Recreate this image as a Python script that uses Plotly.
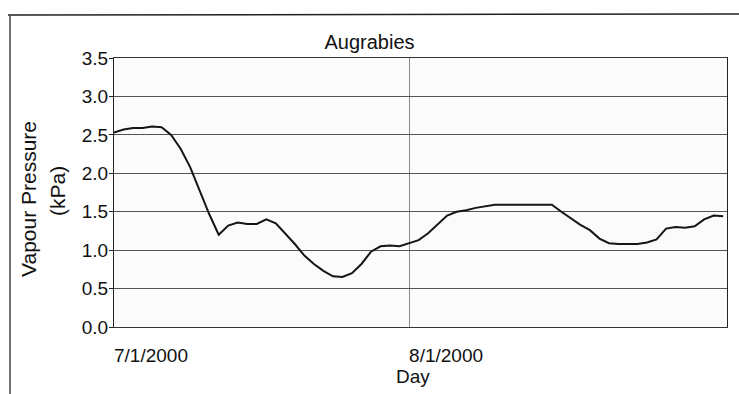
import plotly.graph_objects as go
import pandas as pd

# Data: daily vapour pressure (kPa), Augrabies, 1 Jul 2000 - 3 Sep 2000
start_date = "2000-07-01"
vapour_kpa = [
    2.53, 2.57, 2.59, 2.59, 2.61, 2.60, 2.50, 2.32, 2.08, 1.77,
    1.47, 1.20, 1.32, 1.36, 1.34, 1.34, 1.40, 1.35, 1.22, 1.08,
    0.93, 0.82, 0.73, 0.66, 0.65, 0.70, 0.82, 0.98, 1.05, 1.06,
    1.05, 1.09, 1.13, 1.22, 1.34, 1.45, 1.50, 1.52, 1.55, 1.57,
    1.59, 1.59, 1.59, 1.59, 1.59, 1.59, 1.59, 1.50, 1.41, 1.33,
    1.26, 1.15, 1.09, 1.08, 1.08, 1.08, 1.10, 1.14, 1.28, 1.30,
    1.29, 1.31, 1.40, 1.45, 1.44,
]
days = pd.date_range(start_date, periods=len(vapour_kpa), freq="D")

x_tick_vals = ["2000-07-01", "2000-08-01"]
x_tick_text = ["7/1/2000", "8/1/2000"]
y_tick_vals = [0.0, 0.5, 1.0, 1.5, 2.0, 2.5, 3.0, 3.5]
y_tick_text = ["0.0", "0.5", "1.0", "1.5", "2.0", "2.5", "3.0", "3.5"]

title_text = "Augrabies"
x_title = "Day"
y_title_1 = "Vapour Pressure"
y_title_2 = "(kPa)"

FONT = "Liberation Sans, Arial, sans-serif"
W, H = 739, 394
ML, MR, MT, MB = 114, 12, 58, 67
PW, PH = W - ML - MR, H - MT - MB

fig = go.Figure()
fig.add_trace(go.Scatter(
    x=days, y=vapour_kpa, mode="lines",
    line=dict(color="#151515", width=2),
    showlegend=False, hoverinfo="x+y",
))

fig.update_layout(
    width=W, height=H,
    margin=dict(l=ML, r=MR, t=MT, b=MB, pad=0),
    paper_bgcolor="white",
    plot_bgcolor="#fbfbfb",
    font=dict(family=FONT, color="#111", size=18),
    title=dict(text=title_text, x=0.5, xanchor="center", xref="container",
               y=1 - 42 / H, yanchor="middle", yref="container",
               font=dict(size=20, color="#111", family=FONT)),
    xaxis=dict(
        type="date",
        range=["2000-07-01", "2000-09-03 09:36"],
        tickmode="array", tickvals=x_tick_vals, ticktext=x_tick_text,
        ticks="", showgrid=True, gridcolor="#8a8a8a", gridwidth=1,
        showline=True, linecolor="#333", linewidth=1, mirror=True,
        ticklabelshift=37, ticklabelstandoff=11,
        tickfont=dict(size=19, family=FONT, color="#111"),
        zeroline=False,
    ),
    yaxis=dict(
        range=[0, 3.5],
        tickmode="array", tickvals=y_tick_vals, ticktext=y_tick_text,
        ticks="outside", ticklen=4, tickcolor="#222",
        ticklabelstandoff=-3,
        showgrid=True, gridcolor="#555", gridwidth=1,
        showline=True, linecolor="#222", linewidth=1, mirror=True,
        tickfont=dict(size=19, family=FONT, color="#111"),
        zeroline=False,
    ),
)

# Axis titles as annotations
fig.add_annotation(text=x_title, xref="paper", yref="paper",
                   x=(413 - ML) / PW, y=-(376 - (H - MB)) / PH,
                   xanchor="center", yanchor="middle", showarrow=False,
                   font=dict(size=19, family=FONT, color="#111"))
fig.add_annotation(text=y_title_1, xref="paper", yref="paper",
                   x=-(ML - 28) / PW, y=(H - MB - 199) / PH,
                   xanchor="center", yanchor="middle", showarrow=False, textangle=-90,
                   font=dict(size=21, family=FONT, color="#111"))
fig.add_annotation(text=y_title_2, xref="paper", yref="paper",
                   x=-(ML - 57) / PW, y=(H - MB - 191) / PH,
                   xanchor="center", yanchor="middle", showarrow=False, textangle=-90,
                   font=dict(size=21, family=FONT, color="#111"))

# Outer frame (top and left edges of the scanned chart border)
fig.add_shape(type="line", xref="paper", yref="paper",
              x0=-(ML - 8) / PW, x1=(W - ML) / PW,
              y0=(H - MB - 15) / PH, y1=(H - MB - 14) / PH,
              line=dict(color="#222", width=1.5))
fig.add_shape(type="line", xref="paper", yref="paper",
              x0=-(ML - 10) / PW, x1=-(ML - 10) / PW,
              y0=(H - MB - 15) / PH, y1=-MB / PH,
              line=dict(color="#444", width=1.5))

fig.write_html("out.html")
